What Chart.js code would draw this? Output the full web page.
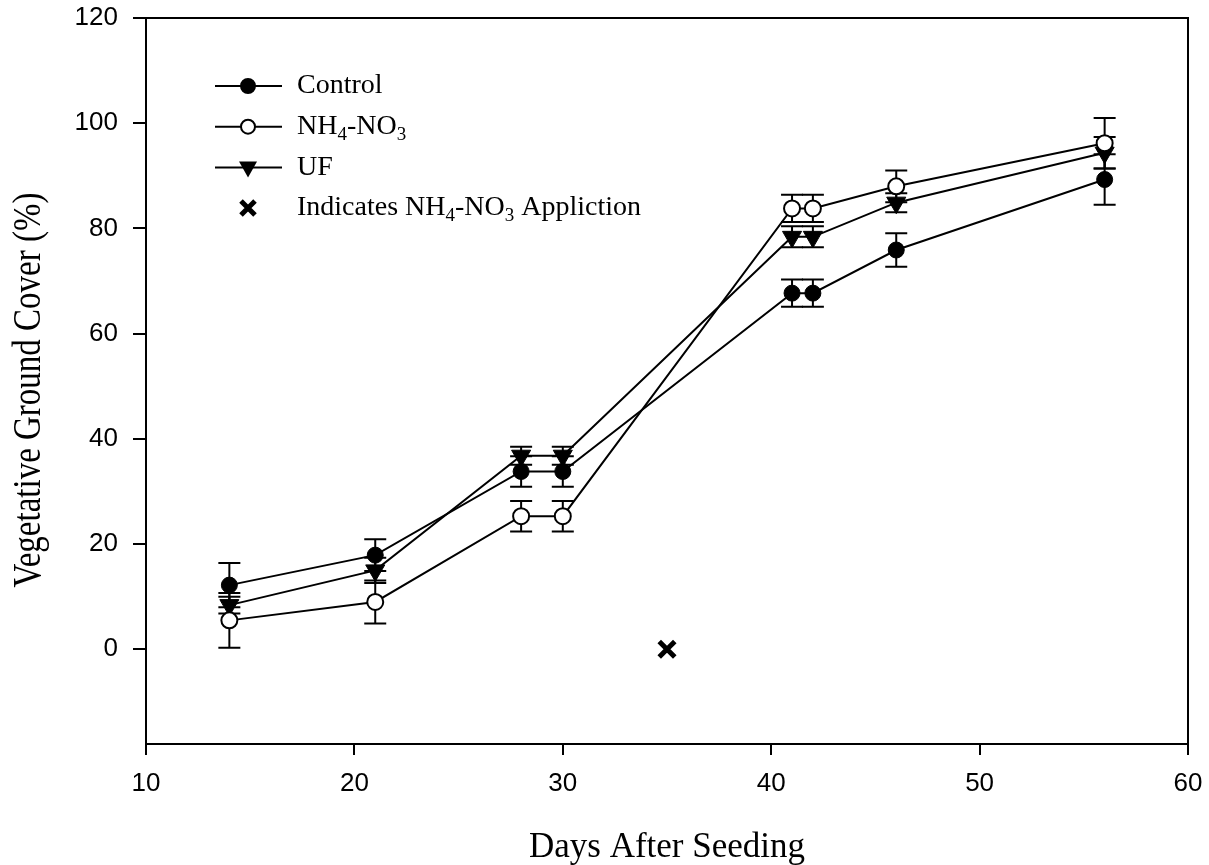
<!DOCTYPE html>
<html>
<head>
<meta charset="utf-8">
<script src="https://cdn.jsdelivr.net/npm/chart.js@4/dist/chart.umd.min.js"></script>
<style>
  html, body { margin: 0; padding: 0; background: #fff; }
  #wrap { width: 1209px; height: 865px; }
</style>
</head>
<body>
<div id="wrap"><canvas id="coverChart" width="1209" height="865"></canvas></div>
<script>
// Vegetative ground cover vs days after seeding
const days = [14, 21, 28, 30, 41, 42, 46, 56];
const controlCover = [12.2, 17.9, 33.8, 33.8, 67.7, 67.7, 75.9, 89.3];
const controlErr = [4.2, 3.0, 2.9, 2.9, 2.6, 2.6, 3.2, 4.8];
const nh4Cover = [5.5, 9.0, 25.3, 25.3, 83.8, 83.8, 88.0, 96.2];
const nh4Err = [5.2, 4.1, 2.9, 2.9, 2.6, 2.6, 3.0, 4.8];
const ufCover = [8.4, 15.0, 36.8, 36.8, 78.4, 78.4, 84.9, 94.4];
const ufErr = [1.6, 2.4, 1.7, 1.7, 2.0, 2.0, 1.8, 3.0];
const applicationDays = [35];
const applicationMark = [0];
const xTicks = [10, 20, 30, 40, 50, 60];
const yTicks = [0, 20, 40, 60, 80, 100, 120];
const yTitle = 'Vegetative Ground Cover (%)';

const serif = '"Liberation Serif", "Times New Roman", serif';
const sans = '"Liberation Sans", Arial, sans-serif';

function toPoints(xs, ys) {
  return xs.map((x, i) => ({ x: x, y: ys[i] }));
}

// error bars drawn under the markers
const errorBars = {
  id: 'errorBars',
  beforeDatasetsDraw(chart) {
    const ctx = chart.ctx;
    const xs = chart.scales.x, ys = chart.scales.y;
    ctx.save();
    ctx.strokeStyle = '#000';
    ctx.lineWidth = 2;
    chart.data.datasets.forEach(ds => {
      if (!ds.errors) return;
      ds.data.forEach((p, i) => {
        const px = xs.getPixelForValue(p.x);
        const top = ys.getPixelForValue(p.y + ds.errors[i]);
        const bot = ys.getPixelForValue(p.y - ds.errors[i]);
        ctx.beginPath();
        ctx.moveTo(px, top); ctx.lineTo(px, bot);
        ctx.moveTo(px - 11, top); ctx.lineTo(px + 11, top);
        ctx.moveTo(px - 11, bot); ctx.lineTo(px + 11, bot);
        ctx.stroke();
      });
    });
    ctx.restore();
  }
};

// top/right frame + tall rotated y title
const frame = {
  id: 'frame',
  afterDraw(chart) {
    const a = chart.chartArea, ctx = chart.ctx;
    ctx.save();
    ctx.strokeStyle = '#000';
    ctx.lineWidth = 2;
    ctx.strokeRect(a.left, a.top, a.right - a.left, a.bottom - a.top);
    ctx.translate(30, 390);
    ctx.rotate(-Math.PI / 2);
    ctx.scale(1, 1.2);
    ctx.font = '33px ' + serif;
    ctx.fillStyle = '#000';
    ctx.textAlign = 'center';
    ctx.textBaseline = 'middle';
    ctx.fillText(yTitle, 0, 0);
    ctx.restore();
  }
};

function drawRich(ctx, parts, x, y, size) {
  let cx = x;
  parts.forEach(p => {
    const sub = typeof p !== 'string';
    const s = sub ? p.sub : p;
    ctx.font = (sub ? Math.round(size * 0.68) : size) + 'px ' + serif;
    ctx.fillText(s, cx, sub ? y + size * 0.3 : y);
    cx += ctx.measureText(s).width;
  });
}

function drawMarker(ctx, kind, x, y) {
  ctx.lineWidth = 2;
  ctx.strokeStyle = '#000';
  ctx.fillStyle = '#000';
  if (kind === 'filled' || kind === 'open') {
    ctx.beginPath();
    ctx.arc(x, y, 7, 0, Math.PI * 2);
    ctx.fillStyle = kind === 'open' ? '#fff' : '#000';
    ctx.fill();
    ctx.stroke();
  } else if (kind === 'tri') {
    ctx.beginPath();
    ctx.moveTo(x - 9, y - 6);
    ctx.lineTo(x + 9, y - 6);
    ctx.lineTo(x, y + 10);
    ctx.closePath();
    ctx.fill();
  } else {
    ctx.lineWidth = 5;
    ctx.beginPath();
    ctx.moveTo(x - 7, y - 7); ctx.lineTo(x + 7, y + 7);
    ctx.moveTo(x + 7, y - 7); ctx.lineTo(x - 7, y + 7);
    ctx.stroke();
  }
}

const legendRows = [
  { kind: 'filled', line: true, parts: ['Control'] },
  { kind: 'open', line: true, parts: ['NH', { sub: '4' }, '-NO', { sub: '3' }] },
  { kind: 'tri', line: true, parts: ['UF'] },
  { kind: 'x', line: false, parts: ['Indicates NH', { sub: '4' }, '-NO', { sub: '3' }, ' Appliction'] }
];

const legendBox = {
  id: 'legendBox',
  afterDraw(chart) {
    const ctx = chart.ctx;
    ctx.save();
    ctx.textBaseline = 'middle';
    legendRows.forEach((r, i) => {
      const y = 86 + i * 40.7;
      if (r.line) {
        ctx.strokeStyle = '#000';
        ctx.lineWidth = 2;
        ctx.beginPath();
        ctx.moveTo(215, y); ctx.lineTo(282, y);
        ctx.stroke();
      }
      drawMarker(ctx, r.kind, 248, y);
      ctx.fillStyle = '#000';
      drawRich(ctx, r.parts, 297, y, 28);
    });
    ctx.restore();
  }
};

const ctx = document.getElementById('coverChart').getContext('2d');
new Chart(ctx, {
  type: 'line',
  data: {
    datasets: [
      {
        label: 'Control',
        data: toPoints(days, controlCover),
        errors: controlErr,
        borderColor: '#000',
        borderWidth: 2,
        pointStyle: 'circle',
        pointRadius: 8,
        pointBackgroundColor: '#000',
        pointBorderColor: '#000',
        pointBorderWidth: 1,
        tension: 0
      },
      {
        label: 'NH4-NO3',
        data: toPoints(days, nh4Cover),
        errors: nh4Err,
        borderColor: '#000',
        borderWidth: 2,
        pointStyle: 'circle',
        pointRadius: 8,
        pointBackgroundColor: '#fff',
        pointBorderColor: '#000',
        pointBorderWidth: 2,
        tension: 0
      },
      {
        label: 'UF',
        data: toPoints(days, ufCover),
        errors: ufErr,
        borderColor: '#000',
        borderWidth: 2,
        pointStyle: 'triangle',
        rotation: 180,
        pointRadius: 11,
        pointBackgroundColor: '#000',
        pointBorderColor: '#000',
        pointBorderWidth: 1,
        tension: 0
      },
      {
        label: 'Application',
        data: toPoints(applicationDays, applicationMark),
        showLine: false,
        pointStyle: 'crossRot',
        pointRadius: 11,
        pointBorderColor: '#000',
        pointBorderWidth: 5
      }
    ]
  },
  options: {
    responsive: false,
    animation: false,
    events: [],
    layout: { padding: { top: 18, right: 21, left: 0, bottom: 0 } },
    plugins: {
      legend: { display: false },
      tooltip: { enabled: false }
    },
    scales: {
      x: {
        type: 'linear',
        min: 10,
        max: 60,
        afterBuildTicks: s => { s.ticks = xTicks.map(v => ({ value: v })); },
        afterFit: s => { s.height = 121; s.paddingLeft = 0; s.paddingRight = 0; },
        grid: { drawOnChartArea: false, tickLength: 11, color: '#000', lineWidth: 2 },
        border: { color: '#000', width: 2 },
        ticks: { color: '#000', font: { family: sans, size: 26 }, padding: 13, maxRotation: 0 },
        title: {
          display: true,
          text: 'Days After Seeding',
          color: '#000',
          font: { family: serif, size: 35, lineHeight: 1 },
          padding: { top: 0, bottom: 0 }
        }
      },
      y: {
        type: 'linear',
        min: -18,
        max: 120,
        afterBuildTicks: s => { s.ticks = yTicks.map(v => ({ value: v })); },
        afterFit: s => { s.width = 146; s.paddingTop = 0; s.paddingBottom = 0; },
        grid: { drawOnChartArea: false, tickLength: 13, color: '#000', lineWidth: 2 },
        border: { color: '#000', width: 2 },
        ticks: { color: '#000', font: { family: sans, size: 26 }, padding: 15 },
        title: { display: false }
      }
    }
  },
  plugins: [errorBars, frame, legendBox]
});
</script>
</body>
</html>
